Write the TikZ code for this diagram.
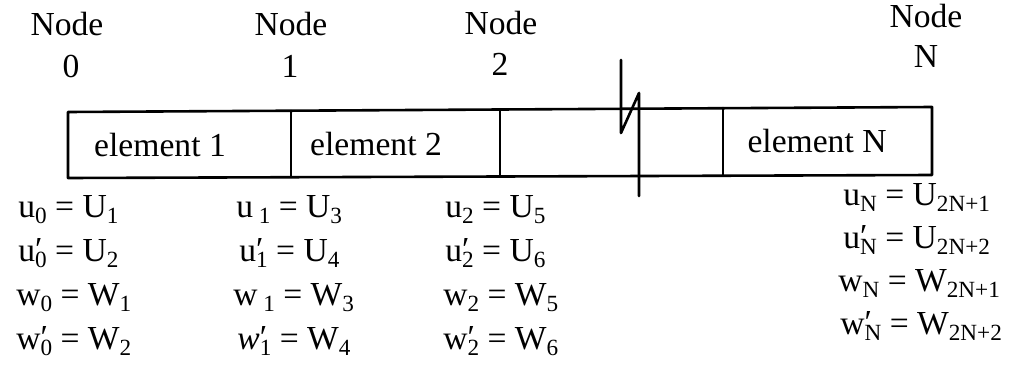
\documentclass[tikz,border=0pt]{standalone}
\usepackage{fontspec}
\setmainfont{Liberation Serif}
\newcommand{\sbx}[1]{\raisebox{-0.2em}{\fontsize{11.6}{12}\selectfont #1}}
\newcommand{\prm}[2]{#1\rlap{\raisebox{0.02em}{′}}\sbx{#2}}
\tikzset{
  lbl/.style={font=\fontsize{16.8}{19}\selectfont, inner sep=0pt, anchor=base},
  eq/.style={font=\fontsize{16.8}{19}\selectfont, inner sep=0pt, anchor=base west,
             text height=11pt, text depth=3pt},
  thick line/.style={line width=1.3pt, line cap=round, line join=round}
}
\begin{document}
\begin{tikzpicture}[x=0.5pt, y=-0.5pt]
\useasboundingbox (0,0) rectangle (1022,375);
% node labels
\node[lbl] (nd0) at (67,35) {Node};
\node[lbl] (nn0) at (71,77) {0};
\node[lbl] (nd1) at (291,35) {Node};
\node[lbl] (nn1) at (290,77) {1};
\node[lbl] (nd2) at (501,34) {Node};
\node[lbl] (nn2) at (500,75) {2};
\node[lbl] (ndN) at (926,27) {Node};
\node[lbl] (nnN) at (926,67) {N};
% element strip
\coordinate (tl) at (68,112);
\coordinate (tr) at (932,107);
\coordinate (br) at (932,175);
\coordinate (bl) at (68,178);
\draw[thick line] (tl) -- (tr) -- (br) -- (bl) -- cycle;
\draw[thick line] (291,111) -- (291,177);
\draw[thick line] (500,110) -- (500,176);
\draw[thick line] (723,108) -- (723,175);
% break mark
\coordinate (ba) at (621,60);
\coordinate (bb) at (621,133);
\coordinate (bc) at (639,93);
\coordinate (bd) at (639,196);
\draw[thick line] (ba) -- (bb) -- (bc) -- (bd);
% element labels
\node[lbl] (el1) at (160,156) {element 1};
\node[lbl] (el2) at (376,155) {element 2};
\node[lbl] (elN) at (817,152) {element N};
% column 0
\node[eq] (u0)  at (18,217) {u\sbx{0} = U\sbx{1}};
\node[eq] (up0) at (18,261) {\prm{u}{0} = U\sbx{2}};
\node[eq] (w0)  at (16,305) {w\sbx{0} = W\sbx{1}};
\node[eq] (wp0) at (16,349) {\prm{w}{0} = W\sbx{2}};
% column 1
\node[eq] (u1)  at (236,217) {u\,\sbx{1} = U\sbx{3}};
\node[eq] (up1) at (239,261) {\prm{u}{1} = U\sbx{4}};
\node[eq] (w1)  at (233,305) {w\,\sbx{1} = W\sbx{3}};
\node[eq] (wp1) at (237,349) {\prm{\textit{w}}{1} = W\sbx{4}};
% column 2
\node[eq] (u2)  at (445,217) {u\sbx{2} = U\sbx{5}};
\node[eq] (up2) at (445,261) {\prm{u}{2} = U\sbx{6}};
\node[eq] (w2)  at (443,305) {w\sbx{2} = W\sbx{5}};
\node[eq] (wp2) at (443,349) {\prm{w}{2} = W\sbx{6}};
% column N
\node[eq] (uN)  at (843,205) {u\sbx{N} = U\sbx{2N+1}};
\node[eq] (upN) at (843,248) {\prm{u}{N} = U\sbx{2N+2}};
\node[eq] (wN)  at (838,291) {w\sbx{N} = W\sbx{2N+1}};
\node[eq] (wpN) at (840,334) {\prm{w}{N} = W\sbx{2N+2}};
\end{tikzpicture}
\end{document}
